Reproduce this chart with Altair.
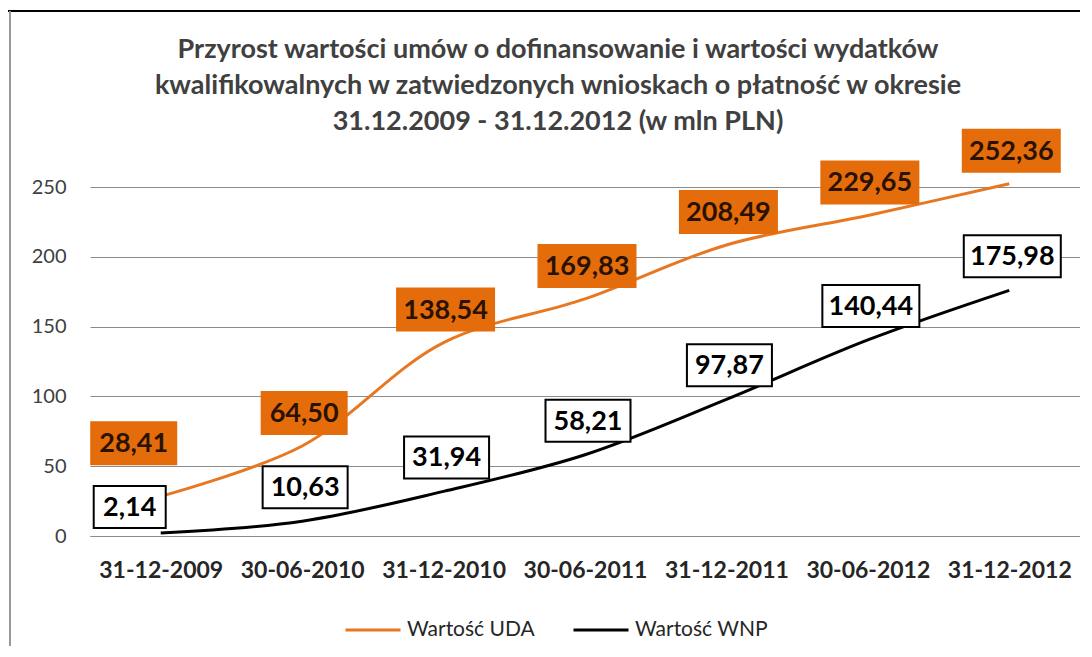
import altair as alt
import pandas as pd

categories = ["31-12-2009", "30-06-2010", "31-12-2010", "30-06-2011",
              "31-12-2011", "30-06-2012", "31-12-2012"]
uda_values = [28.41, 64.50, 138.54, 169.83, 208.49, 229.65, 252.36]
wnp_values = [2.14, 10.63, 31.94, 58.21, 97.87, 140.44, 175.98]
series_names = ["Wartość UDA", "Wartość WNP"]
y_ticks = [0, 50, 100, 150, 200, 250]
title_lines = [
    "Przyrost wartości umów o dofinansowanie i wartości wydatków",
    "kwalifikowalnych w zatwiedzonych wnioskach o płatność w okresie",
    "31.12.2009 - 31.12.2012 (w mln PLN)",
]

rows = []
for name, vals in zip(series_names, [uda_values, wnp_values]):
    for i, (c, v) in enumerate(zip(categories, vals)):
        lab = f"{v:.2f}".replace(".", ",")
        rows.append({"cat": c, "idx": i, "series": name, "value": v,
                     "label": lab, "n": len(lab)})
df = pd.DataFrame(rows)

FONT = "Lato"
ORANGE_LINE = "#E87722"
ORANGE_BOX = "#E46C0A"

X = alt.X("cat:N", sort=categories,
          scale=alt.Scale(type="point", padding=0.5),
          axis=alt.Axis(title=None, labelAngle=0, ticks=False, domain=True,
                        domainColor="#8c8c8c", domainWidth=1,
                        labelFont=FONT, labelFontSize=23, labelFontWeight="bold",
                        labelColor="#262626", labelPadding=23, grid=False))
Xs = alt.X("cat:N", sort=categories)
YSCALE = alt.Scale(domain=[0, 250], nice=False, zero=True)
Y = alt.Y("value:Q", scale=YSCALE,
          axis=alt.Axis(title=None, values=y_ticks, ticks=False, domain=False,
                        grid=True, gridColor="#8c8c8c", gridWidth=1,
                        labelFont=FONT, labelFontSize=20, labelColor="#404040",
                        labelPadding=24))
Ys = alt.Y("value:Q", scale=YSCALE)

lines = alt.Chart(df).mark_line(interpolate="catmull-rom", strokeWidth=3).encode(
    x=X, y=Y,
    color=alt.Color("series:N", sort=series_names,
                    scale=alt.Scale(domain=series_names, range=[ORANGE_LINE, "#000000"]),
                    legend=alt.Legend(title=None, orient="none", legendX=254, legendY=414,
                                      direction="horizontal", symbolType="stroke",
                                      symbolSize=3025, symbolStrokeWidth=3,
                                      labelFont=FONT, labelFontSize=21,
                                      labelColor="#262626", labelOffset=5,
                                      columnPadding=32)),
)

styles = {
    "Wartość UDA": dict(fill=ORANGE_BOX, stroke=ORANGE_BOX, text="#2a1200",
                        first=(-27, -53), rest=(2, -33)),
    "Wartość WNP": dict(fill="#ffffff", stroke="#000000", text="#000000",
                        first=(-31, -26), rest=(3, -34)),
}
widths = {4: 72, 5: 85, 6: 97}
BOX_H = 42

layers = [lines]
for name in series_names:
    st = styles[name]
    for is_first in [True, False]:
        dx, dy = st["first"] if is_first else st["rest"]
        cond = (alt.datum.idx == 0) if is_first else (alt.datum.idx != 0)
        for n, w in widths.items():
            layers.append(
                alt.Chart(df).transform_filter(alt.datum.series == name)
                .transform_filter(cond).transform_filter(alt.datum.n == n)
                .mark_rect(fill=st["fill"], stroke=st["stroke"], strokeWidth=2,
                           xOffset=dx - w / 2, x2Offset=dx + w / 2,
                           yOffset=dy - BOX_H / 2, y2Offset=dy + BOX_H / 2)
                .encode(x=Xs, x2=alt.X2("cat:N"), y=Ys, y2=alt.Y2("value:Q"))
            )
        layers.append(
            alt.Chart(df).transform_filter(alt.datum.series == name)
            .transform_filter(cond)
            .mark_text(dx=dx, dy=dy + 1, font=FONT, fontSize=27, fontWeight="bold",
                       color=st["text"], align="center", baseline="middle")
            .encode(x=Xs, y=Ys, text="label:N")
        )

# outer frame of the original picture
frame_top = alt.Chart(df).mark_rule(color="#000000", strokeWidth=2).encode(
    x=alt.value(-90), x2=alt.value(1010), y=alt.value(-176))
frame_left = alt.Chart(df).mark_rule(color="#9a9a9a", strokeWidth=2).encode(
    x=alt.value(-80), y=alt.value(-176), y2=alt.value(470))
layers += [frame_top, frame_left]

chart = alt.layer(*layers).properties(
    width=990, height=349,
    autosize=alt.AutoSizeParams(type="none"),
    padding={"left": 82, "top": 179, "right": 0, "bottom": 110},
    title=alt.TitleParams(text=title_lines, font=FONT, fontSize=27, fontWeight="bold",
                          color="#404040", anchor="middle", frame="group",
                          offset=-126, dx=-27, lineHeight=36),
).configure(background="#ffffff").configure_view(stroke=None)

chart.save("out.html", embed_options={"renderer": "svg", "actions": False})
